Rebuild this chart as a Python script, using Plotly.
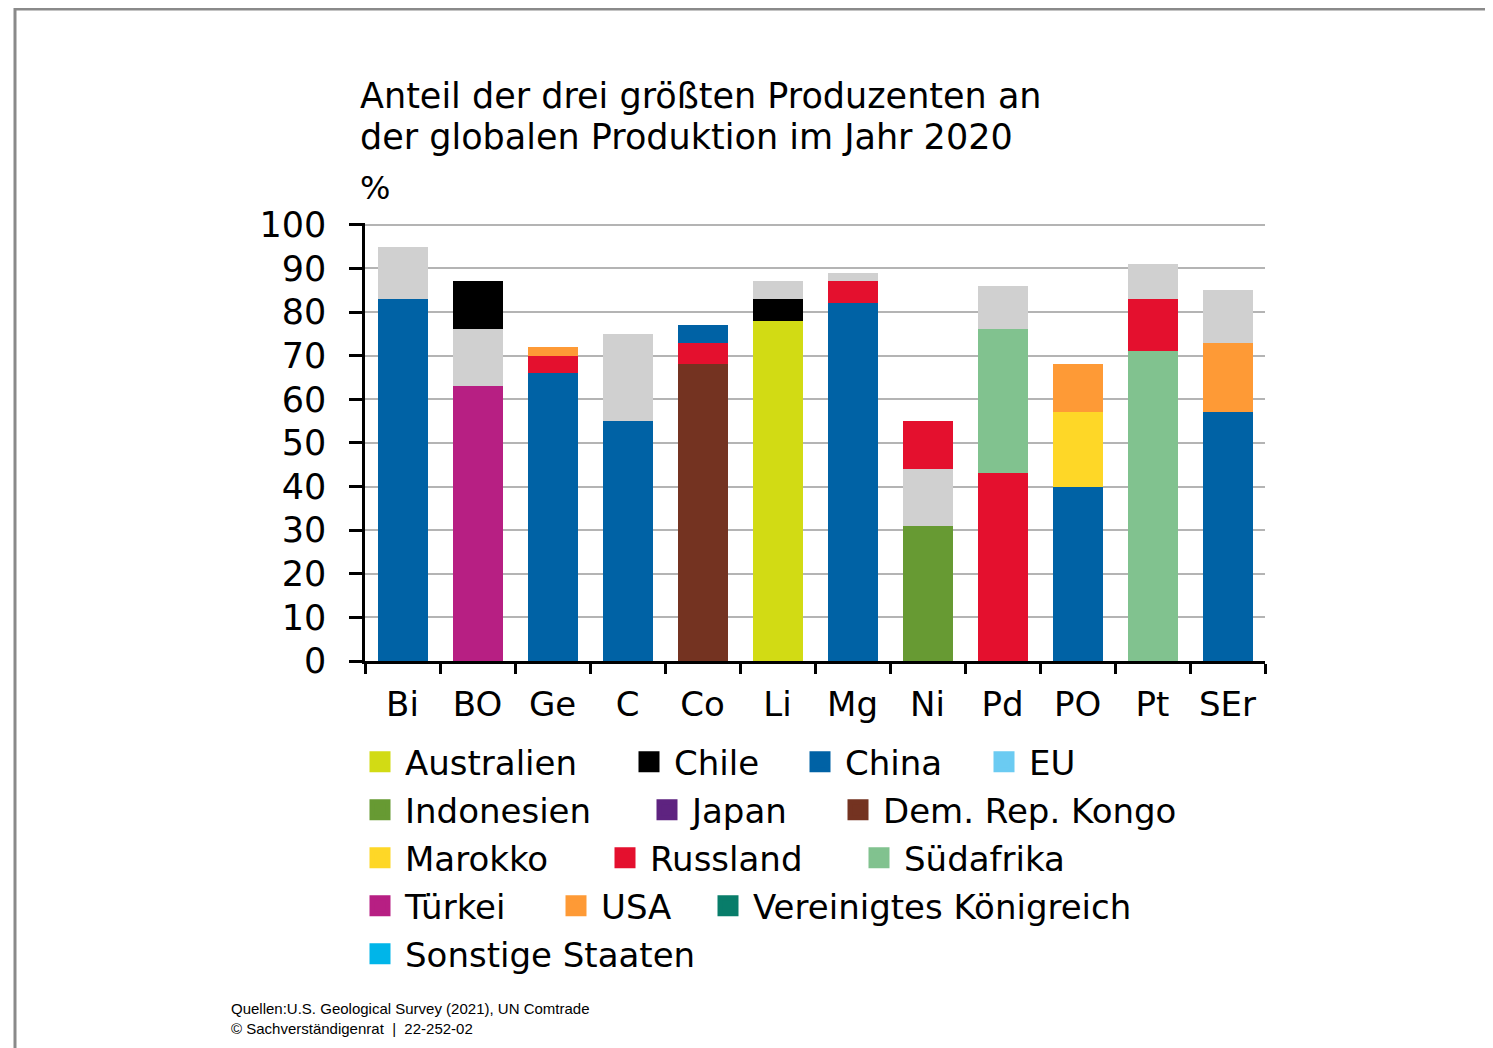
import plotly.graph_objects as go

# data
minerals = ["Bi", "BO", "Ge", "C", "Co", "Li", "Mg", "Ni", "Pd", "PO", "Pt", "SEr"]

first_land = ["China", "Türkei", "China", "China", "Dem. Rep. Kongo", "Australien",
              "China", "Indonesien", "Russland", "China", "Südafrika", "China"]
first_share = [83, 63, 66, 55, 68, 78, 82, 31, 43, 40, 71, 57]

second_land = ["Andere", "Andere", "Russland", "Andere", "Russland", "Chile",
               "Russland", "Andere", "Südafrika", "Marokko", "Russland", "USA"]
second_share = [12, 13, 4, 20, 5, 5, 5, 13, 33, 17, 12, 16]

third_land = ["Andere", "Chile", "USA", "Andere", "China", "Andere",
              "Andere", "Russland", "Andere", "USA", "Andere", "Andere"]
third_share = [0, 11, 2, 0, 4, 4, 2, 11, 10, 11, 8, 12]

legend_lands = ["Australien", "Chile", "China", "EU", "Indonesien", "Japan", "Dem. Rep. Kongo",
                "Marokko", "Russland", "Südafrika", "Türkei", "USA", "Vereinigtes Königreich",
                "Sonstige Staaten"]

colors = {
    "Australien": "#D2DB14",
    "Chile": "#000000",
    "China": "#0062A5",
    "EU": "#6BCBF2",
    "Indonesien": "#679A33",
    "Japan": "#5E2380",
    "Dem. Rep. Kongo": "#743321",
    "Marokko": "#FED727",
    "Russland": "#E4102E",
    "Südafrika": "#81C28F",
    "Türkei": "#B71F83",
    "USA": "#FE9A36",
    "Vereinigtes Königreich": "#087D6A",
    "Sonstige Staaten": "#00B5E9",
    "Andere": "#D0D0D0",
}

# page body adds 8px, so the figure is laid out 8px up/left
OFF = 8
W, H = 1493, 1048
YMAX = 100.4                       # a hair above 100 so the top gridline is drawn
UNIT = (661 - 225) / 100           # px per percentage point
L, R, B = 365 - OFF, 1265 - OFF, 661 - OFF
T = B - UNIT * YMAX


def px(x):
    return (x - OFF - L) / (R - L)


def py(y):
    return (B - (y - OFF)) / (B - T)


FONT = "DejaVu Sans"

fig = go.Figure()

for lands, shares in [(first_land, first_share), (second_land, second_share), (third_land, third_share)]:
    fig.add_trace(go.Bar(
        x=minerals, y=shares,
        marker=dict(color=[colors[c] for c in lands], line_width=0),
        showlegend=False,
        hovertext=lands,
    ))

# legend, one small legend per entry so the rows wrap like the original
legend_spots = {
    "Australien": (366, 762), "Chile": (635, 762), "China": (806, 762), "EU": (990, 762),
    "Indonesien": (366, 810), "Japan": (653, 810), "Dem. Rep. Kongo": (844, 810),
    "Marokko": (366, 858), "Russland": (611, 858), "Südafrika": (865, 858),
    "Türkei": (366, 906), "USA": (562, 906), "Vereinigtes Königreich": (714, 906),
    "Sonstige Staaten": (366, 954),
}

legends = {}
for i, land in enumerate(legend_lands):
    key = "legend" if i == 0 else f"legend{i + 1}"
    fig.add_trace(go.Scatter(
        x=[None], y=[None], mode="markers", name=land, legend=key,
        marker=dict(symbol="square", size=16, color=colors[land],
                    line=dict(color=colors[land], width=5)),
    ))
    sx, sy = legend_spots[land]
    legends[key] = dict(
        x=px(sx - 11), y=py(sy), xanchor="left", yanchor="middle",
        orientation="h", bgcolor="rgba(0,0,0,0)", borderwidth=0,
        font=dict(family=FONT, size=34, color="black"),
        itemsizing="trace", itemwidth=40,
    )

fig.update_layout(
    width=W, height=H,
    margin=dict(l=L, r=W - R, t=T, b=H - B, autoexpand=False),
    barmode="stack",
    bargap=1 / 3,
    plot_bgcolor="white",
    paper_bgcolor="white",
    font=dict(family=FONT, color="black"),
    **legends,
)

fig.update_yaxes(
    range=[0, YMAX], tickvals=list(range(0, 101, 10)),
    showgrid=True, gridcolor="#B4B4B4", gridwidth=2, zeroline=False,
    showline=True, linecolor="black", linewidth=2.5,
    ticks="outside", ticklen=13, tickwidth=2.5, tickcolor="black",
    ticklabelstandoff=16,
    tickfont=dict(family=FONT, size=35, color="black"),
)
fig.update_xaxes(
    showgrid=False,
    showline=True, linecolor="black", linewidth=2.5,
    ticks="outside", tickson="boundaries", ticklen=10, tickwidth=2.5, tickcolor="black",
    ticklabelstandoff=11,
    tickfont=dict(family=FONT, size=34, color="black"),
)

# title, unit and sources
title_lines = ["Anteil der drei größten Produzenten an", "der globalen Produktion im Jahr 2020"]
for line, yc in zip(title_lines, [96, 137]):
    fig.add_annotation(
        text=line, xref="paper", yref="paper", x=px(358), y=py(yc),
        xanchor="left", yanchor="middle", showarrow=False,
        font=dict(family=FONT, size=35, color="black"),
    )
fig.add_annotation(
    text="%", xref="paper", yref="paper", x=px(358), y=py(188),
    xanchor="left", yanchor="middle", showarrow=False,
    font=dict(family=FONT, size=32, color="black"),
)
fig.add_annotation(
    text="Quellen:U.S. Geological Survey (2021), UN Comtrade<br>© Sachverständigenrat  |  22-252-02",
    xref="paper", yref="paper", x=px(229), y=py(1018.5),
    xanchor="left", yanchor="middle", align="left", showarrow=False,
    font=dict(family="Liberation Sans", size=15, color="black"),
)

# frame
fig.add_shape(type="line", xref="paper", yref="paper", x0=px(15), x1=px(W + 10), y0=py(9.5), y1=py(9.5),
              line=dict(color="#8A8A8A", width=3))
fig.add_shape(type="line", xref="paper", yref="paper", x0=px(15), x1=px(15), y0=py(8), y1=py(H + 10),
              line=dict(color="#8A8A8A", width=3))

fig.write_html("out.html")
